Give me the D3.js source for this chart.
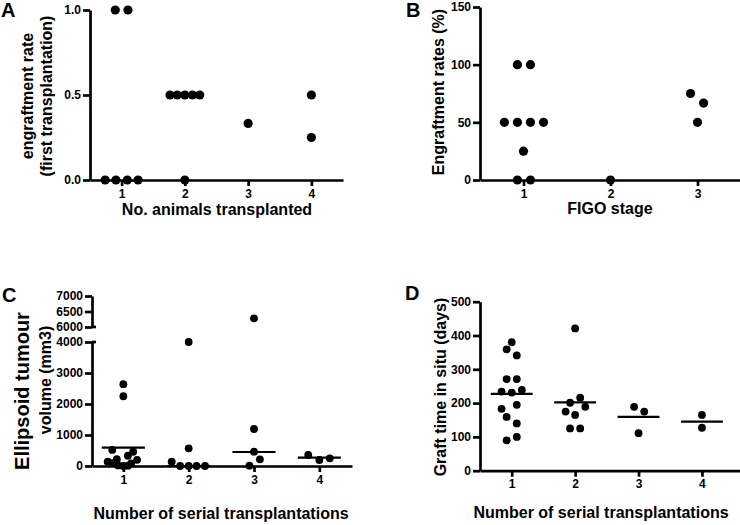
<!DOCTYPE html>
<html><head><meta charset="utf-8">
<script src="https://cdn.jsdelivr.net/npm/d3@7"></script>
<style>
body{margin:0;background:#fff;}
svg{display:block;}
text{font-family:'Liberation Sans',Arial,Helvetica,sans-serif;font-weight:bold;fill:#000;}
</style></head>
<body>
<svg id="chart" width="740" height="525"></svg>
<script>
// ---------- DATA ----------
// Panel A
const aCategories = [1, 2, 3, 4];
const aGroup  = [1,1,1,1,1,1, 2,2,2,2,2,2, 3, 4,4];
const aValue  = [1,1,0,0,0,0, 0.5,0.5,0.5,0.5,0.5,0, 0.333, 0.5,0.25];
const aOffset = [-0.1,0.1,-0.26,-0.09,0.09,0.26, -0.235,-0.12,0,0.12,0.235,0, 0, 0,0];
const aYTicks = [0, 0.5, 1.0];

// Panel B
const bCategories = [1, 2, 3];
const bGroup  = [1,1,1,1,1,1,1,1,1, 2, 3,3,3];
const bValue  = [100,100,50,50,50,50,25,0,0, 0, 75,66.7,50];
const bOffset = [-0.07,0.08,-0.22,-0.07,0.08,0.23,0,-0.07,0.08, 0, -0.08,0.07,0];
const bYTicks = [0, 50, 100, 150];

// Panel C
const cCategories = [1, 2, 3, 4];
const cGroup  = [1,1,1,1,1,1,1,1,1,1,1,1,1, 2,2,2,2,2,2,2, 3,3,3,3,3, 4,4,4];
const cValue  = [2640,2250,520,460,330,220,200,140,100,80,20,10,0,
                 4000,570,140,0,0,0,0,
                 6280,1194,461,216,10,
                 355,194,248];
const cOffset = [0,0,-0.17,0.15,0.07,-0.1,0.21,-0.24,-0.16,0.12,-0.08,0.07,0,
                 0,0,-0.26,-0.13,0,0.12,0.25,
                 0,0,0,0.09,-0.07,
                 -0.17,0,0.16];
const cCenter = [590, 0, 452, 268];
const cYTicksLow  = [0, 1000, 2000, 3000, 4000];
const cYTicksHigh = [6000, 6500, 7000];

// Panel D
const dCategories = [1, 2, 3, 4];
const dGroup  = [1,1,1,1,1,1,1,1,1,1,1,1,1,1, 2,2,2,2,2,2,2,2, 3,3,3, 4,4];
const dValue  = [380,359,341,271,271,234,231,239,183,195,159,140,90,100,
                 421,201,216,189,175,165,125,125,
                 189,175,111,
                 165,127];
const dOffset = [0,-0.08,0.08,-0.08,0.08,-0.16,0,0.16,-0.16,0.08,-0.08,0.08,-0.08,0.08,
                 0,-0.08,0.08,0.16,-0.15,0,-0.08,0.08,
                 -0.07,0.09,0,
                 0,0];
const dCenter = [227, 202, 159, 145];
const dYTicks = [0, 100, 200, 300, 400, 500];

// ---------- DRAW ----------
const svg = d3.select('#chart');
const AXW = 2.7;

function styleAxis(g) {
  g.selectAll('path.domain').attr('stroke', '#000').attr('stroke-width', AXW).attr('fill', 'none');
  g.selectAll('.tick line').attr('stroke', '#000').attr('stroke-width', AXW);
  g.selectAll('.tick text').attr('font-size', 12).attr('font-weight', 'bold')
    .attr('font-family', "'Liberation Sans',Arial,Helvetica,sans-serif").attr('fill', '#000');
}
function xAxis(x, yPos, cats) {
  const g = svg.append('g').attr('transform', `translate(0,${yPos})`)
    .call(d3.axisBottom(x).tickValues(cats).tickFormat(d3.format('d')).tickSize(6).tickSizeOuter(0).tickPadding(3));
  styleAxis(g);
  return g;
}
function yAxis(y, xPos, ticks, fmt) {
  const g = svg.append('g').attr('transform', `translate(${xPos},0)`)
    .call(d3.axisLeft(y).tickValues(ticks).tickFormat(fmt).tickSize(7).tickSizeOuter(0).tickPadding(2));
  styleAxis(g);
  return g;
}
function dots(x, yFn, groups, values, offsets, r) {
  svg.append('g').selectAll('circle').data(values).join('circle')
    .attr('cx', (d, i) => x(groups[i] + offsets[i]))
    .attr('cy', d => yFn(d))
    .attr('r', r).attr('fill', '#000');
}
function centerLines(x, y, cats, vals, half) {
  svg.append('g').selectAll('line').data(vals).join('line')
    .attr('x1', (d, i) => x(cats[i] - half)).attr('x2', (d, i) => x(cats[i] + half))
    .attr('y1', d => y(d)).attr('y2', d => y(d))
    .attr('stroke', '#000').attr('stroke-width', 2.2);
}
function vTitle(lines, cx, cy, sizes) {
  lines.forEach((t, i) => {
    svg.append('text').attr('transform', `translate(${cx[i]},${cy[i]}) rotate(-90)`)
      .attr('text-anchor', 'middle').attr('font-size', sizes[i]).text(t);
  });
}
function hTitle(t, x, y, size) {
  svg.append('text').attr('x', x).attr('y', y).attr('text-anchor', 'middle').attr('font-size', size).text(t);
}
function label(t, x, y) {
  svg.append('text').attr('x', x).attr('y', y).attr('font-size', 20).text(t);
}

// Panel A
{
  const x = d3.scaleLinear().domain([0.5, 4.5]).range([90, 343]);
  const y = d3.scaleLinear().domain([0, 1]).range([180, 10]);
  dots(x, y, aGroup, aValue, aOffset, 4.6);
  xAxis(x, 180, aCategories);
  yAxis(y, 90, aYTicks, d3.format('.1f'));
  vTitle(['engraftment rate', '(first transplantation)'], [33, 52], [96, 96], [16, 16]);
  hTitle('No. animals transplanted', 217, 215, 16);
  label('A', 1, 17);
}
// Panel B
{
  const x = d3.scaleLinear().domain([0.5, 3.5]).range([480, 741]);
  const y = d3.scaleLinear().domain([0, 150]).range([180, 7]);
  dots(x, y, bGroup, bValue, bOffset, 4.6);
  xAxis(x, 180, bCategories);
  yAxis(y, 480, bYTicks, d3.format('d'));
  vTitle(['Engraftment rates (%)'], [444], [92], [16]);
  hTitle('FIGO stage', 610, 214, 16);
  label('B', 406, 17);
}
// Panel C (broken y axis)
{
  const x = d3.scaleLinear().domain([0.52, 4.5]).range([92, 352]);
  const yLow = d3.scaleLinear().domain([0, 4000]).range([466, 342]);
  const yHigh = d3.scaleLinear().domain([6000, 7000]).range([327, 296]);
  const yFn = v => v > 5000 ? yHigh(v) : yLow(v);
  dots(x, yFn, cGroup, cValue, cOffset, 3.9);
  centerLines(x, yLow, cCategories, cCenter, 0.33);
  xAxis(x, 466, cCategories);
  yAxis(yLow, 92, cYTicksLow, d3.format('d'));
  yAxis(yHigh, 92, cYTicksHigh, d3.format('d'));
  // break marks
  [yLow(4000), yHigh(6000)].forEach(py => {
    svg.append('line').attr('x1', 92).attr('x2', 96).attr('y1', py).attr('y2', py)
      .attr('stroke', '#000').attr('stroke-width', AXW);
  });
  vTitle(['Ellipsoid tumour', 'volume (mm3)'], [29, 51], [391, 380], [20, 16]);
  hTitle('Number of serial transplantations', 221, 519, 16);
  label('C', 2, 302);
}
// Panel D
{
  const x = d3.scaleLinear().domain([0.5, 4.6]).range([480, 740]);
  const y = d3.scaleLinear().domain([0, 500]).range([470.7, 301.7]);
  dots(x, y, dGroup, dValue, dOffset, 3.9);
  centerLines(x, y, dCategories, dCenter, 0.33);
  xAxis(x, 470.7, dCategories);
  yAxis(y, 480, dYTicks, d3.format('d'));
  vTitle(['Graft time in situ (days)'], [446], [387], [16]);
  hTitle('Number of serial transplantations', 601, 518, 16);
  label('D', 405, 300);
}
</script>
</body></html>
